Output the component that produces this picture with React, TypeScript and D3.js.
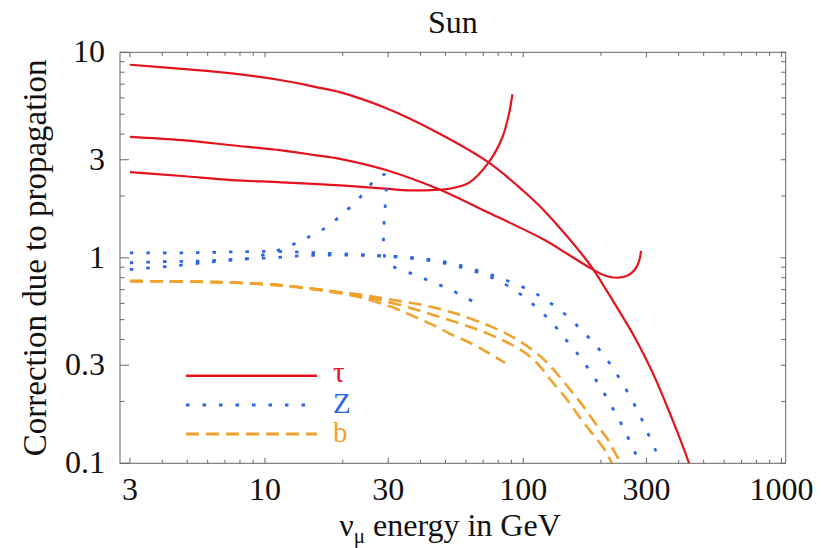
import React from "react";
import * as d3 from "d3";

type Pt = [number, number];

// Correction factors vs. neutrino energy (GeV), three dark-matter masses per channel
const tau1000: Pt[] = [[3,8.7],[4.76,8.31],[7.43,7.89],[11.6,7.31],[15.6,6.79],[19.5,6.4],[29.2,5.37],[45.5,4.13],[73.2,2.92],[100,2.12],[115,1.8],[137,1.42],[168,1.05],[187,0.877],[227,0.593],[271,0.408],[315,0.281],[354,0.2005],[399,0.138],[436,0.1024],[446,0.094]];
const tau300: Pt[] = [[3,3.88],[4.76,3.74],[7.43,3.53],[11.6,3.33],[15.6,3.16],[19.5,3.03],[29.2,2.68],[46.9,2.16],[71.1,1.69],[119.6,1.23],[150,1.035],[181.4,0.894],[207,0.82],[233,0.8],[255,0.823],[271,0.877],[281,0.963],[286,1.08]];
const tau100: Pt[] = [[3,2.61],[4.76,2.5],[7.43,2.39],[11.6,2.33],[19.5,2.25],[29.2,2.17],[36.4,2.13],[45.5,2.14],[53,2.18],[62,2.33],[73.5,2.91],[83,3.85],[88.2,5.05],[90.8,6.25]];

const z1000: Pt[] = [[3,1.057],[4.3,1.057],[5.8,1.06],[7.8,1.07],[10.5,1.075],[14,1.065],[18,1.05],[22,1.04],[26,1.03],[29.6,1.02],[34.3,1.011],[39.8,0.992],[46.2,0.97],[53.3,0.938],[61.3,0.894],[71.1,0.845],[81.3,0.799],[92.9,0.747],[107.9,0.688],[121.5,0.627],[136.8,0.565],[154.1,0.497],[170.9,0.436],[188.5,0.382],[207.4,0.33],[225.3,0.283],[244.1,0.242],[263.1,0.204],[281.6,0.174],[299,0.147],[317.3,0.124],[328.9,0.1125],[345,0.095]];
const z300: Pt[] = [[3,0.946],[4.3,0.96],[5.8,0.965],[7.8,0.985],[10.5,1.0],[14,1.024],[18,1.03],[22,1.03],[26,1.025],[29.6,1.015],[34.3,1.003],[39.8,0.983],[46.2,0.958],[53.3,0.922],[61.3,0.878],[71.1,0.826],[81.3,0.769],[91.5,0.701],[103.2,0.632],[115.4,0.556],[128.9,0.488],[140.9,0.423],[154.9,0.367],[170,0.3165],[184.2,0.2726],[200.1,0.233],[215.5,0.198],[232.2,0.168],[247.9,0.143],[265.5,0.12],[273.4,0.11],[285,0.095]];
const z100: Pt[] = [[3,0.877],[3.18,0.884],[4.29,0.91],[5.77,0.946],[6.7,0.963],[9.0,1.0],[10.45,1.058],[11.95,1.118],[13.66,1.204],[15.38,1.298],[17.59,1.425],[19.82,1.624],[22.32,1.852],[24.77,2.15],[27.08,2.45],[28.72,2.54],[29.3,2.52],[29.4,0.97],[32.8,0.884],[37.9,0.829],[43.6,0.769],[49.8,0.719],[56.9,0.663],[65.1,0.604]];

const b1000: Pt[] = [[3,0.77],[3.92,0.769],[5.6,0.764],[7.77,0.756],[11.43,0.736],[16.3,0.7],[19.5,0.68],[23.3,0.663],[27.5,0.641],[32.8,0.618],[39.2,0.595],[46.2,0.569],[54.4,0.537],[63.2,0.503],[74.4,0.465],[87.5,0.423],[101.6,0.378],[117.9,0.327],[132.8,0.28],[151.8,0.2287],[170.9,0.1896],[189.7,0.1574],[210.6,0.1331],[226.7,0.1125],[237,0.1024],[245,0.095]];
const b300: Pt[] = [[3,0.77],[3.92,0.769],[5.6,0.764],[7.77,0.756],[11.43,0.736],[16.3,0.7],[19.5,0.678],[23.3,0.655],[27.5,0.625],[32.8,0.592],[39.2,0.556],[46.2,0.521],[54.4,0.488],[63.2,0.458],[74.4,0.423],[87.5,0.385],[101.6,0.345],[114.4,0.3025],[128.9,0.251],[149.5,0.2005],[166,0.1665],[184.2,0.1407],[204.3,0.119],[216.8,0.1044],[225,0.095]];
const b100: Pt[] = [[3,0.77],[3.92,0.769],[5.6,0.764],[7.77,0.756],[11.43,0.734],[16.3,0.695],[19.5,0.672],[23.3,0.643],[26.7,0.612],[31.9,0.568],[37.5,0.52],[44.2,0.474],[52.8,0.423],[63.2,0.382],[73.2,0.345],[85,0.308]];

const xMajor = [3, 10, 30, 100, 300, 1000];
const xMinor = [4, 5, 6, 7, 8, 9, 20, 40, 50, 60, 70, 80, 90, 200, 400, 500, 600, 700, 800, 900];
const yMajor = [0.1, 0.3, 1, 3, 10];
const yMinor = [0.2, 0.4, 0.5, 0.6, 0.7, 0.8, 0.9, 2, 4, 5, 6, 7, 8, 9];

const RED = "#e3141d";
const BLUE = "#2a66e4";
const ORANGE = "#f0a22e";
const FRAME = "#666";
const FONT = '"Liberation Serif", "Times New Roman", "DejaVu Serif", serif';

const W = 831, H = 548;
const L = 120, R = 785.7, T = 52.3, B = 463.3;

const x = d3.scaleLog().domain([2.745, 1039]).range([L, R]);
const y = d3.scaleLog().domain([0.1, 10]).range([B, T]);

const line = d3.line<Pt>().x(d => x(d[0])).y(d => y(d[1])).curve(d3.curveCatmullRom.alpha(0.5));

const series = [
  { data: tau1000, color: RED, dash: undefined, width: 2.2 },
  { data: tau300, color: RED, dash: undefined, width: 2.2 },
  { data: tau100, color: RED, dash: undefined, width: 2.2 },
  { data: z1000, color: BLUE, dash: "3.5 13", width: 2.8 },
  { data: z300, color: BLUE, dash: "3.5 13", width: 2.8 },
  { data: z100, color: BLUE, dash: "3.5 13", width: 2.8 },
  { data: b1000, color: ORANGE, dash: "13 7", width: 2.6 },
  { data: b300, color: ORANGE, dash: "13 7", width: 2.6 },
  { data: b100, color: ORANGE, dash: "13 7", width: 2.6 },
];

const legend = [
  { label: "τ", color: RED, dash: undefined, width: 2.4, y: 375.7, ty: 382 },
  { label: "Z", color: BLUE, dash: "3.5 13", width: 2.8, y: 405, ty: 412.7 },
  { label: "b", color: ORANGE, dash: "13 7", width: 2.8, y: 434, ty: 441.7 },
];

const textStyle = { fontFamily: FONT };

export default function App() {
  return (
    <svg
      width={W}
      height={H}
      style={{ position: "absolute", left: 0, top: 0, background: "#fff", fontFamily: FONT }}
    >
      <defs>
        <clipPath id="plot-area">
          <rect x={L} y={T} width={R - L} height={B - T} />
        </clipPath>
      </defs>

      {/* title */}
      <text x={(L + R) / 2} y={33.3} fontSize={32} textAnchor="middle" fill="#111" style={textStyle}>Sun</text>

      {/* curves */}
      <g clipPath="url(#plot-area)" fill="none">
        {series.map((s, i) => (
          <path key={i} d={line(s.data) || ""} stroke={s.color} strokeWidth={s.width} strokeDasharray={s.dash} />
        ))}
      </g>

      {/* frame */}
      <rect x={L} y={T} width={R - L} height={B - T} fill="none" stroke={FRAME} strokeWidth={1} />

      {/* ticks on all four sides */}
      <g stroke={FRAME} strokeWidth={1}>
        {xMajor.map(v => (
          <g key={"xM" + v}>
            <line x1={x(v)} x2={x(v)} y1={B} y2={B - 5.5} />
            <line x1={x(v)} x2={x(v)} y1={T} y2={T + 5} />
          </g>
        ))}
        {xMinor.map(v => (
          <g key={"xm" + v}>
            <line x1={x(v)} x2={x(v)} y1={B} y2={B - 3.5} />
            <line x1={x(v)} x2={x(v)} y1={T} y2={T + 3.5} />
          </g>
        ))}
        {yMajor.map(v => (
          <g key={"yM" + v}>
            <line x1={L} x2={L + 9} y1={y(v)} y2={y(v)} />
            <line x1={R} x2={R - 5} y1={y(v)} y2={y(v)} />
          </g>
        ))}
        {yMinor.map(v => (
          <g key={"ym" + v}>
            <line x1={L} x2={L + 4.5} y1={y(v)} y2={y(v)} />
            <line x1={R} x2={R - 4.5} y1={y(v)} y2={y(v)} />
          </g>
        ))}
      </g>

      {/* tick labels */}
      <g fontSize={32} fill="#111" style={textStyle}>
        {xMajor.map(v => (
          <text key={"xl" + v} x={x(v)} y={500} textAnchor="middle" style={textStyle}>{String(v)}</text>
        ))}
        {yMajor.map(v => (
          <text key={"yl" + v} x={105} y={y(v) + 10} textAnchor="end" style={textStyle}>{String(v)}</text>
        ))}
      </g>

      {/* axis titles */}
      <text x={450} y={536} fontSize={32} textAnchor="middle" fill="#111" style={textStyle}>
        ν<tspan dy={7} fontSize={21}>μ</tspan><tspan dy={-7}> energy in GeV</tspan>
      </text>
      <text
        transform={`translate(45.7, ${(T + B) / 2}) rotate(-90)`}
        fontSize={33}
        textAnchor="middle"
        fill="#111"
        style={textStyle}
      >
        Correction due to propagation
      </text>

      {/* legend */}
      {legend.map(l => (
        <g key={l.label}>
          <line x1={186} x2={317} y1={l.y} y2={l.y} stroke={l.color} strokeWidth={l.width} strokeDasharray={l.dash} />
          <text x={333} y={l.ty} fontSize={29} fill={l.color} style={textStyle}>{l.label}</text>
        </g>
      ))}
    </svg>
  );
}
